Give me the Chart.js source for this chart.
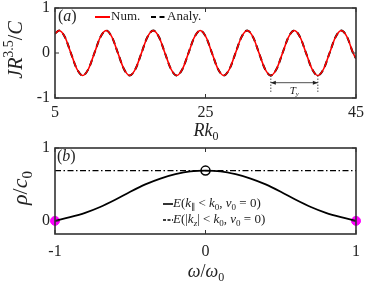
<!DOCTYPE html>
<html>
<head>
<meta charset="utf-8">
<script src="https://cdn.jsdelivr.net/npm/chart.js@4/dist/chart.umd.min.js"></script>
<style>
  html, body { margin: 0; padding: 0; background: #fff; }
  #wrap { position: relative; width: 374px; height: 281px; }
  canvas { position: absolute; left: 0; }
  #top-chart { top: 0; }
  #bottom-chart { top: 140px; }
</style>
</head>
<body>
<div id="wrap">
  <canvas id="top-chart" width="374" height="140"></canvas>
  <canvas id="bottom-chart" width="374" height="141"></canvas>
</div>
<script>
// panel (a): J R^3.5 / C vs R k0
const rk0 = [5.0, 5.55, 6.33, 7.11, 7.89, 8.68, 9.46, 10.24, 11.02, 11.80, 12.58, 13.36, 14.14, 14.93, 15.71,
  16.49, 17.27, 18.05, 18.83, 19.61, 20.39, 21.18, 21.96, 22.74, 23.52, 24.30, 25.08, 25.86, 26.64, 27.43,
  28.21, 28.99, 29.77, 30.55, 31.33, 32.11, 32.89, 33.68, 34.46, 35.24, 36.02, 36.80, 37.58, 38.36, 39.14,
  39.93, 40.71, 41.49, 42.27, 43.05, 43.83, 44.61, 45.0];
const jNum = [0.43, 0.5, 0.35, 0, -0.35, -0.5, -0.35, 0, 0.35, 0.5, 0.35, 0, -0.35, -0.5, -0.35,
  0, 0.35, 0.5, 0.35, 0, -0.35, -0.5, -0.35, 0, 0.35, 0.5, 0.35, 0, -0.35, -0.5,
  -0.35, 0, 0.35, 0.5, 0.35, 0, -0.35, -0.5, -0.35, 0, 0.35, 0.5, 0.35, 0, -0.35,
  -0.5, -0.35, 0, 0.35, 0.5, 0.35, 0, -0.12];
const jAnaly = jNum; // the two curves coincide
const topXTicks = [5, 25, 45];
const topYTicks = [-1, 0, 1];
const tyStart = 33.68, tyEnd = 39.93;

// panel (b): rho / c0 vs omega / omega0
const omega = [-1, -0.9, -0.8, -0.7, -0.6, -0.5, -0.4, -0.3, -0.2, -0.1, 0, 0.1, 0.2, 0.3, 0.4, 0.5, 0.6, 0.7, 0.8, 0.9, 1];
const rhoPar = [0, 0.05, 0.11, 0.19, 0.29, 0.40, 0.50, 0.58, 0.64, 0.68, 0.69, 0.68, 0.64, 0.58, 0.50, 0.40, 0.29, 0.19, 0.11, 0.05, 0];
const rhoZ = [0.69, 0.69];
const rhoZx = [-1, 1];
const edgePts = [[-1, 0], [1, 0]];
const topPt = [0, 0.69];
const botXTicks = [-1, 0, 1];
const botYTicks = [0, 1];

const SERIF = '"Liberation Serif", "DejaVu Serif", serif';
const INK = '#222';

function pts(xs, ys) {
    return xs.map((x, i) => ({ x: x, y: ys[i] }));
}

// draw a line of mixed text: roman, italic, sub, sup
function rich(ctx, x, y, parts, size, align) {
    const fontFor = (k) => {
        const small = (k === 'sub' || k === 'isub' || k === 'sup');
        const s = small ? Math.round(size * 0.68) : size;
        const it = (k === 'i' || k === 'isub') ? 'italic ' : '';
        return it + s + 'px ' + SERIF;
    };
    let w = 0;
    parts.forEach(p => { ctx.font = fontFor(p[1]); w += ctx.measureText(p[0]).width; });
    let cx = x;
    if (align === 'center') cx = x - w / 2;
    if (align === 'right') cx = x - w;
    ctx.textBaseline = 'middle';
    ctx.textAlign = 'left';
    parts.forEach(p => {
        ctx.font = fontFor(p[1]);
        let dy = 0;
        if (p[1] === 'sub' || p[1] === 'isub') dy = size * 0.3;
        if (p[1] === 'sup') dy = -size * 0.38;
        ctx.fillText(p[0], cx, y + dy);
        cx += ctx.measureText(p[0]).width;
    });
}

// frame, inward ticks on all sides, tick labels
function frameAndTicks(chart, xt, yt, xLabGap) {
    const ctx = chart.ctx;
    const a = chart.chartArea;
    const xs = chart.scales.x, ys = chart.scales.y;
    ctx.save();
    ctx.strokeStyle = '#333';
    ctx.lineWidth = 1.6;
    ctx.strokeRect(a.left, a.top, a.right - a.left, a.bottom - a.top);
    ctx.lineWidth = 1;
    ctx.beginPath();
    xt.forEach(v => {
        const px = xs.getPixelForValue(v);
        ctx.moveTo(px, a.bottom); ctx.lineTo(px, a.bottom - 4);
        ctx.moveTo(px, a.top); ctx.lineTo(px, a.top + 4);
    });
    yt.forEach(v => {
        const py = ys.getPixelForValue(v);
        ctx.moveTo(a.left, py); ctx.lineTo(a.left + 4, py);
        ctx.moveTo(a.right, py); ctx.lineTo(a.right - 4, py);
    });
    ctx.stroke();
    ctx.fillStyle = INK;
    xt.forEach(v => rich(ctx, xs.getPixelForValue(v), a.bottom + xLabGap, [[String(v), 'r']], 16, 'center'));
    yt.forEach(v => rich(ctx, a.left - 5, ys.getPixelForValue(v), [[String(v), 'r']], 16, 'right'));
    ctx.restore();
}

function axes(xmin, xmax, ymin, ymax, xh) {
    return {
        x: {
            type: 'linear', min: xmin, max: xmax,
            afterFit: (s) => { s.height = xh; },
            grid: { display: false, drawTicks: false },
            border: { display: false },
            ticks: { display: false }
        },
        y: {
            type: 'linear', min: ymin, max: ymax,
            afterFit: (s) => { s.width = 55; },
            grid: { display: false, drawTicks: false },
            border: { display: false },
            ticks: { display: false }
        }
    };
}

const topDecor = {
    id: 'topDecor',
    afterDraw(chart) {
        frameAndTicks(chart, topXTicks, topYTicks, 15);
        const ctx = chart.ctx;
        const xs = chart.scales.x, ys = chart.scales.y;
        ctx.save();
        ctx.fillStyle = INK;
        ctx.strokeStyle = INK;
        // T_y marker
        const x1 = xs.getPixelForValue(tyStart), x2 = xs.getPixelForValue(tyEnd);
        const yTr = ys.getPixelForValue(-0.5), yLo = ys.getPixelForValue(-0.9), yAr = ys.getPixelForValue(-0.66);
        ctx.lineWidth = 0.8;
        ctx.setLineDash([1.5, 1.5]);
        ctx.beginPath();
        ctx.moveTo(x1, yTr); ctx.lineTo(x1, yLo);
        ctx.moveTo(x2, yTr); ctx.lineTo(x2, yLo);
        ctx.stroke();
        ctx.setLineDash([]);
        ctx.beginPath();
        ctx.moveTo(x1, yAr); ctx.lineTo(x2, yAr);
        ctx.stroke();
        ctx.beginPath();
        ctx.moveTo(x1, yAr); ctx.lineTo(x1 + 5, yAr - 2); ctx.lineTo(x1 + 5, yAr + 2); ctx.closePath();
        ctx.moveTo(x2, yAr); ctx.lineTo(x2 - 5, yAr - 2); ctx.lineTo(x2 - 5, yAr + 2); ctx.closePath();
        ctx.fill();
        rich(ctx, (x1 + x2) / 2, ys.getPixelForValue(-0.84), [['T', 'i'], ['y', 'isub']], 11, 'center');
        // panel tag and legend
        rich(ctx, 58, 17, [['(', 'r'], ['a', 'i'], [')', 'r']], 16, 'left');
        ctx.lineWidth = 2;
        ctx.strokeStyle = '#ff0000';
        ctx.beginPath(); ctx.moveTo(95, 17); ctx.lineTo(110, 17); ctx.stroke();
        ctx.strokeStyle = '#000';
        ctx.setLineDash([5, 3.5]);
        ctx.beginPath(); ctx.moveTo(151, 17); ctx.lineTo(166, 17); ctx.stroke();
        ctx.setLineDash([]);
        rich(ctx, 111, 17, [['Num.', 'r']], 13, 'left');
        rich(ctx, 167, 17, [['Analy.', 'r']], 13, 'left');
        // axis titles
        rich(ctx, 206, 131, [['Rk', 'i'], ['0', 'sub']], 18, 'center');
        ctx.translate(17, 50);
        ctx.rotate(-Math.PI / 2);
        rich(ctx, 0, 0, [['JR', 'i'], ['3.5', 'sup'], ['/', 'r'], ['C', 'i']], 20, 'center');
        ctx.restore();
    }
};

const botDecor = {
    id: 'botDecor',
    afterDraw(chart) {
        frameAndTicks(chart, botXTicks, botYTicks, 18);
        const ctx = chart.ctx;
        ctx.save();
        ctx.fillStyle = INK;
        ctx.strokeStyle = '#000';
        rich(ctx, 57, 17, [['(', 'r'], ['b', 'i'], [')', 'r']], 16, 'left');
        ctx.lineWidth = 1.6;
        ctx.beginPath(); ctx.moveTo(163, 64); ctx.lineTo(173, 64); ctx.stroke();
        ctx.setLineDash([3, 1.5]);
        ctx.beginPath(); ctx.moveTo(163, 80); ctx.lineTo(173, 80); ctx.stroke();
        ctx.setLineDash([]);
        rich(ctx, 173, 64, [['E', 'i'], ['(', 'r'], ['k', 'i'], ['\u2225', 'sub'], [' < ', 'r'], ['k', 'i'], ['0', 'sub'],
            [', ', 'r'], ['v', 'i'], ['0', 'sub'], [' = 0)', 'r']], 13, 'left');
        rich(ctx, 173, 80, [['E', 'i'], ['(|', 'r'], ['k', 'i'], ['z', 'isub'], ['| < ', 'r'], ['k', 'i'], ['0', 'sub'],
            [', ', 'r'], ['v', 'i'], ['0', 'sub'], [' = 0)', 'r']], 13, 'left');
        rich(ctx, 206, 132, [['\u03c9', 'i'], ['/', 'r'], ['\u03c9', 'i'], ['0', 'sub']], 18, 'center');
        ctx.translate(21, 48);
        ctx.rotate(-Math.PI / 2);
        rich(ctx, 0, 0, [['\u03c1', 'i'], ['/', 'r'], ['c', 'i'], ['0', 'sub']], 22, 'center');
        ctx.restore();
    }
};

new Chart(document.getElementById('top-chart'), {
    type: 'scatter',
    data: {
        datasets: [{
            label: 'Num.',
            data: pts(rk0, jNum),
            showLine: true,
            borderColor: '#ff0000',
            borderWidth: 1.6,
            pointRadius: 0,
            cubicInterpolationMode: 'monotone'
        }, {
            label: 'Analy.',
            data: pts(rk0, jAnaly),
            showLine: true,
            borderColor: '#000',
            borderWidth: 2,
            borderDash: [6, 4],
            pointRadius: 0,
            cubicInterpolationMode: 'monotone'
        }]
    },
    options: {
        responsive: false,
        animation: false,
        events: [],
        layout: { padding: { top: 8, right: 18, left: 0, bottom: 0 } },
        scales: axes(5, 45, -1, 1, 42),
        plugins: { legend: { display: false }, tooltip: { enabled: false } }
    },
    plugins: [topDecor]
});

new Chart(document.getElementById('bottom-chart'), {
    type: 'scatter',
    data: {
        datasets: [{
            label: 'E(|kz| < k0, v0 = 0)',
            data: pts(rhoZx, rhoZ),
            showLine: true,
            borderColor: '#000',
            borderWidth: 1.4,
            borderDash: [6, 2.5, 1.5, 2.5],
            pointRadius: 0
        }, {
            label: 'E(k∥ < k0, v0 = 0)',
            data: pts(omega, rhoPar),
            showLine: true,
            borderColor: '#000',
            borderWidth: 1.8,
            pointRadius: 0,
            cubicInterpolationMode: 'monotone'
        }, {
            label: 'edges',
            data: edgePts.map(p => ({ x: p[0], y: p[1] })),
            pointRadius: 4.5,
            pointBackgroundColor: '#ff00ff',
            pointBorderColor: '#ff00ff',
            clip: false
        }, {
            label: 'top',
            data: [{ x: topPt[0], y: topPt[1] }],
            pointRadius: 4.5,
            pointBackgroundColor: '#fff',
            pointBorderColor: '#000',
            pointBorderWidth: 1.5,
            clip: false
        }]
    },
    options: {
        responsive: false,
        animation: false,
        events: [],
        layout: { padding: { top: 8, right: 18, left: 0, bottom: 0 } },
        scales: axes(-1, 1, -0.18, 1, 47),
        plugins: { legend: { display: false }, tooltip: { enabled: false } }
    },
    plugins: [botDecor]
});
</script>
</body>
</html>
